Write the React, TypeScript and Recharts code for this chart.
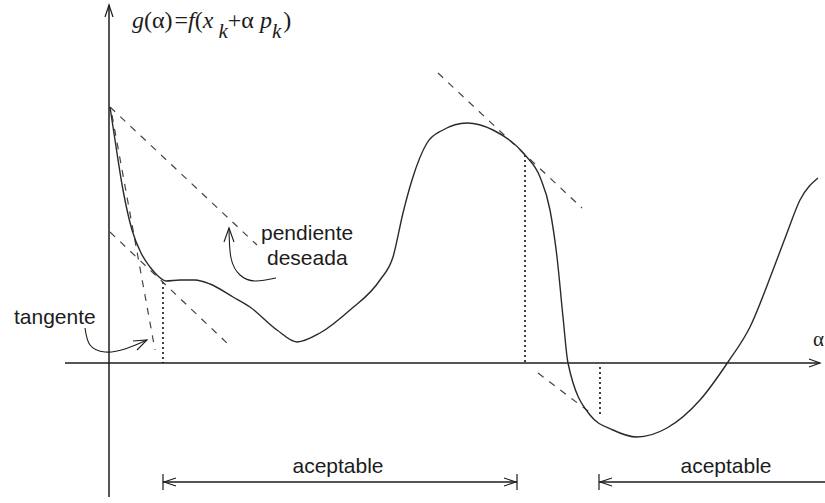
import { ComposedChart, Line, ReferenceDot, ReferenceLine, XAxis, YAxis } from 'recharts'

// g(α) sampled along the line search
const alphas = [1, 6, 14, 23, 32, 41, 49, 57, 71, 86, 101, 124, 141, 168, 188, 211, 241, 271, 284, 294, 303, 318, 334, 358, 384, 416, 431, 441, 448, 454, 459, 481, 504, 528, 558, 591, 619, 641, 664, 678, 691, 709]
const gValues = [256, 223, 173, 133, 110, 96, 87, 82, 83, 83, 79, 66, 56, 33, 21, 30, 53, 83, 106, 150, 183, 220, 233, 240, 233, 208, 186, 153, 106, 46, 0, -52, -67, -74, -65, -37, 1, 36, 93, 130, 163, 185]

// dashed guide lines: [α0, g0, α1, g1]
const desiredSlope = [1, 256, 148, 118]
const tangentAtZero = [3, 248, 46, 13]
const parallelLeft = [1, 131, 119, 19]
const parallelPeak = [329, 290, 473, 155]
const parallelValley = [429, -10, 483, -51]

// dotted drops: [α, gTop, gBottom]
const drops = [
  [54, 81, 0],
  [416, 208, 0],
  [491, -4, -54],
]

// acceptable intervals
const intervalLeft = [54, 408]
const intervalRight = [490, 716]
const intervalG = -119

// curved call-out arrows
const tangentArrowA = [-24, -19, -4, 16, 38]
const tangentArrowG = [35, 18, 11, 14, 23]
const slopeArrowA = [167, 146, 131, 122, 120]
const slopeArrowG = [85, 82, 88, 105, 135]

const axisX = [-44, 711]
const axisY = [-134, 358]

const toPts = (a: number[], g: number[]) => a.map((v, i) => ({ a: v, g: g[i] }))
const seg = (s: number[]) => [
  { a: s[0], g: s[1] },
  { a: s[2], g: s[3] },
]

const curve = toPts(alphas, gValues)

const ink = '#1c1c1c'
const sans = '"Liberation Sans", Arial, sans-serif'
const serif = '"Liberation Serif", "Times New Roman", serif'

function txt(content: string, anchor: 'start' | 'middle', size = 21, family = sans) {
  return (p: any) => (
    <text x={p.cx} y={p.cy} textAnchor={anchor} fontSize={size} fontFamily={family} fill={ink}>
      {content}
    </text>
  )
}

function formula(p: any) {
  return (
    <text x={p.cx} y={p.cy} fontSize={24} fontFamily={serif} fill={ink}>
      <tspan fontStyle="italic">g</tspan>
      <tspan>(α)</tspan>
      <tspan dx={2}>=</tspan>
      <tspan fontStyle="italic">f</tspan>
      <tspan>(</tspan>
      <tspan fontStyle="italic">x</tspan>
      <tspan fontStyle="italic" dy={10} dx={5} fontSize={21}>k</tspan>
      <tspan dy={-10}>+α </tspan>
      <tspan fontStyle="italic">p</tspan>
      <tspan fontStyle="italic" dy={10} fontSize={21}>k</tspan>
      <tspan dy={-10} dx={2}>)</tspan>
    </text>
  )
}

const common = { dataKey: 'g', dot: false, activeDot: false, isAnimationActive: false, legendType: 'none' as const }

export default function App() {
  const dashed = [desiredSlope, tangentAtZero, parallelLeft, parallelPeak, parallelValley]
  const L = intervalLeft
  const R = intervalRight
  const y0 = intervalG
  return (
    <div style={{ position: 'absolute', left: 0, top: 0, background: '#fff' }}>
      <ComposedChart width={825} height={503} margin={{ top: 0, right: 0, bottom: 0, left: 0 }}>
        <XAxis type="number" dataKey="a" domain={[-109, 716]} hide allowDataOverflow />
        <YAxis type="number" domain={[-140, 363]} hide allowDataOverflow />

        {/* axes */}
        <ReferenceLine segment={[{ x: axisX[0], y: 0 }, { x: axisX[1], y: 0 }]} stroke={ink} strokeWidth={1.5} />
        <ReferenceLine segment={[{ x: 0, y: axisY[0] }, { x: 0, y: axisY[1] }]} stroke={ink} strokeWidth={1.5} />
        <Line {...common} type="linear" data={[{ a: axisX[1] - 11, g: 4 }, { a: axisX[1], g: 0 }, { a: axisX[1] - 11, g: -4 }]} stroke={ink} strokeWidth={1.2} />
        <Line {...common} type="linear" data={[{ a: -4, g: axisY[1] - 12 }, { a: 0, g: axisY[1] }, { a: 4, g: axisY[1] - 12 }]} stroke={ink} strokeWidth={1.2} />

        {/* dotted drops to the axis */}
        {drops.map((d, i) => (
          <ReferenceLine key={i} segment={[{ x: d[0], y: d[1] }, { x: d[0], y: d[2] }]} stroke="#000" strokeWidth={1.5} strokeDasharray="2 3" />
        ))}

        {/* dashed slope lines */}
        {dashed.map((s, i) => (
          <Line key={i} {...common} type="linear" data={seg(s)} stroke="#444" strokeWidth={1.2} strokeDasharray="7 7" />
        ))}

        <Line {...common} type="monotone" data={curve} stroke="#2a2a2a" strokeWidth={1.4} />

        {/* call-out arrows */}
        <Line {...common} type="natural" data={toPts(tangentArrowA, tangentArrowG)} stroke={ink} strokeWidth={1.1} />
        <Line {...common} type="linear" data={[{ a: 24, g: 22 }, { a: 38, g: 23 }, { a: 28, g: 13 }]} stroke={ink} strokeWidth={1.1} />
        <Line {...common} type="natural" data={toPts(slopeArrowA, slopeArrowG)} stroke={ink} strokeWidth={1.1} />
        <Line {...common} type="linear" data={[{ a: 115, g: 121 }, { a: 120, g: 135 }, { a: 125, g: 121 }]} stroke={ink} strokeWidth={1.1} />

        {/* acceptable intervals */}
        <ReferenceLine segment={[{ x: L[0], y: y0 }, { x: L[1], y: y0 }]} stroke={ink} strokeWidth={1.3} />
        <ReferenceLine segment={[{ x: L[0], y: y0 + 8 }, { x: L[0], y: y0 - 8 }]} stroke={ink} strokeWidth={1.2} />
        <ReferenceLine segment={[{ x: L[1], y: y0 + 8 }, { x: L[1], y: y0 - 8 }]} stroke={ink} strokeWidth={1.2} />
        <Line {...common} type="linear" data={[{ a: L[0] + 13, g: y0 + 4 }, { a: L[0] + 1, g: y0 }, { a: L[0] + 13, g: y0 - 4 }]} stroke={ink} strokeWidth={1.1} />
        <Line {...common} type="linear" data={[{ a: L[1] - 13, g: y0 + 4 }, { a: L[1] - 1, g: y0 }, { a: L[1] - 13, g: y0 - 4 }]} stroke={ink} strokeWidth={1.1} />
        <ReferenceLine segment={[{ x: R[0], y: y0 }, { x: R[1], y: y0 }]} stroke={ink} strokeWidth={1.3} />
        <ReferenceLine segment={[{ x: R[0], y: y0 + 8 }, { x: R[0], y: y0 - 8 }]} stroke={ink} strokeWidth={1.2} />
        <Line {...common} type="linear" data={[{ a: R[0] + 13, g: y0 + 4 }, { a: R[0] + 1, g: y0 }, { a: R[0] + 13, g: y0 - 4 }]} stroke={ink} strokeWidth={1.1} />

        {/* labels */}
        <ReferenceDot x={23} y={335} r={0} shape={formula} />
        <ReferenceDot x={704} y={17} r={0} shape={txt('α', 'start', 21, serif)} />
        <ReferenceDot x={-95} y={39} r={0} shape={txt('tangente', 'start')} />
        <ReferenceDot x={152} y={123} r={0} shape={txt('pendiente', 'start')} />
        <ReferenceDot x={158} y={98} r={0} shape={txt('deseada', 'start')} />
        <ReferenceDot x={229} y={-110} r={0} shape={txt('aceptable', 'middle')} />
        <ReferenceDot x={617} y={-110} r={0} shape={txt('aceptable', 'middle')} />
      </ComposedChart>
    </div>
  )
}
